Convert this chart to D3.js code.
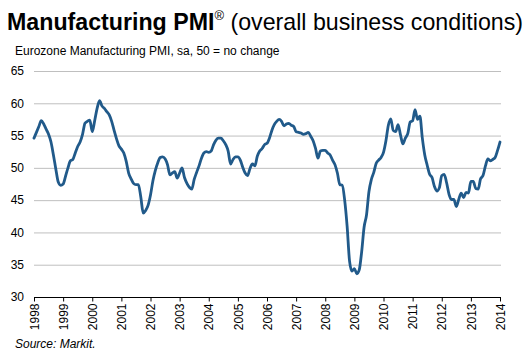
<!DOCTYPE html>
<html><head><meta charset="utf-8">
<script src="https://cdn.jsdelivr.net/npm/d3@7"></script>
<style>body{margin:0;background:#fff}svg{display:block}</style>
</head><body><svg id="c" width="523" height="356"></svg>
<script>
const startYear = 1998;
const yearLabels = ["1998","1999","2000","2001","2002","2003","2004","2005","2006","2007","2008","2009","2010","2011","2012","2013","2014"];
const yTicks = [30,35,40,45,50,55,60,65];
// Monthly Eurozone Manufacturing PMI, Jan 1998 .. Jan 2014
const pmi1998 = [54.6,55.5,56.4,57.3,56.8,56.0,55.2,54.0,52.0,49.8,47.8,47.3];
const pmi1999 = [47.5,48.7,50.0,51.1,51.3,52.3,53.3,54.0,55.2,56.9,57.2,57.4];
const pmi2000 = [55.6,57.3,59.2,60.4,59.6,59.2,58.7,58.2,57.2,55.8,54.5,53.4];
const pmi2001 = [52.9,52.3,51.0,49.2,48.3,47.6,47.4,47.4,45.5,43.0,43.4,44.2];
const pmi2002 = [45.8,48.0,49.6,50.8,51.6,51.7,51.4,50.5,48.9,49.2,49.4,48.4];
const pmi2003 = [49.2,50.0,48.5,47.6,47.0,46.7,48.2,49.3,50.3,51.5,52.3,52.5];
const pmi2004 = [52.4,52.6,53.6,54.3,54.6,54.6,54.2,53.6,52.6,50.6,51.3,51.7];
const pmi2005 = [51.7,51.2,50.1,49.2,48.8,49.9,50.6,50.3,51.8,52.6,53.0,53.6];
const pmi2006 = [53.8,54.6,55.8,56.7,57.2,57.5,57.2,56.5,56.8,56.9,56.6,56.4];
const pmi2007 = [55.6,55.5,55.4,55.2,55.3,55.5,54.9,54.2,53.0,51.5,52.6,52.7];
const pmi2008 = [52.7,52.3,52.0,51.2,50.5,49.2,47.4,47.3,45.0,41.0,35.6,34.0];
const pmi2009 = [34.4,33.6,34.2,37.0,40.8,42.7,46.3,48.2,49.3,50.7,51.2,51.6];
const pmi2010 = [52.4,54.2,56.6,57.6,55.8,55.6,56.7,55.1,53.7,54.6,55.3,57.1];
const pmi2011 = [57.3,59.0,57.5,58.0,54.6,52.0,50.4,49.0,48.5,47.1,46.4,46.9];
const pmi2012 = [48.8,49.0,47.7,45.9,45.1,45.1,44.0,45.1,46.1,45.4,46.2,46.1];
const pmi2013 = [47.9,47.9,46.8,46.7,48.3,48.8,50.3,51.4,51.1,51.3,51.6,52.7];
const pmi2014 = [54.0];

const values = [].concat(pmi1998,pmi1999,pmi2000,pmi2001,pmi2002,pmi2003,pmi2004,pmi2005,
  pmi2006,pmi2007,pmi2008,pmi2009,pmi2010,pmi2011,pmi2012,pmi2013,pmi2014);

const svg = d3.select("#c");
const font = "Liberation Sans, Arial, sans-serif";

const x = d3.scaleLinear().domain([0, 192]).range([34, 500]);
const y = d3.scaleLinear().domain([30, 65]).range([297, 71]);

// title
const t = svg.append("text").attr("x", 7).attr("y", 30).attr("font-family", font).attr("font-size", 23.2).attr("fill", "#000");
t.append("tspan").attr("font-weight", "bold").text("Manufacturing PMI");
t.append("tspan").attr("font-size", 13).attr("dy", -10).text("®");
t.append("tspan").attr("dy", 10).text(" (overall business conditions)");

svg.append("text").attr("x", 15).attr("y", 55).attr("font-family", font).attr("font-size", 12)
  .attr("fill", "#000").text("Eurozone Manufacturing PMI, sa, 50 = no change");

// gridlines
svg.append("g").selectAll("line").data(yTicks.filter(v => v > 30)).join("line")
  .attr("x1", x(0)).attr("x2", 501).attr("y1", d => y(d) + 0.5).attr("y2", d => y(d) + 0.5)
  .attr("stroke", "#bfbfbf").attr("stroke-width", 1);

// y axis labels
const yAxis = d3.axisLeft(y).tickValues(yTicks).tickSize(0).tickPadding(10);
const gy = svg.append("g").attr("transform", `translate(${x(0)},0)`).call(yAxis);
gy.select(".domain").remove();
gy.selectAll("text").attr("font-family", font).attr("font-size", 12).attr("fill", "#000");

// x axis
const xAxis = d3.axisBottom(x).tickValues(yearLabels.map((d, i) => i * 12))
  .tickFormat((d, i) => yearLabels[i]).tickSize(4).tickSizeOuter(0);
const gx = svg.append("g").attr("transform", `translate(0,${y(30) + 0.5})`).call(xAxis);
gx.select(".domain").attr("d", `M${x(0)},0H501`).attr("stroke", "#000");
gx.selectAll(".tick line").attr("stroke", "#000");
gx.selectAll("text").attr("font-family", font).attr("font-size", 12).attr("fill", "#000")
  .attr("transform", "rotate(-90)").attr("text-anchor", "end")
  .attr("x", -6).attr("y", 0).attr("dy", "0.35em");

// line
const line = d3.line().x((d, i) => x(i)).y(d => y(d)).curve(d3.curveMonotoneX);
svg.append("path").datum(values).attr("d", line).attr("fill", "none")
  .attr("stroke", "#215a8a").attr("stroke-width", 2.8).attr("stroke-linejoin", "round").attr("stroke-linecap", "round");

svg.append("text").attr("x", 15).attr("y", 348).attr("font-family", font).attr("font-size", 12)
  .attr("font-style", "italic").attr("fill", "#000").text("Source: Markit.");
</script></body></html>
